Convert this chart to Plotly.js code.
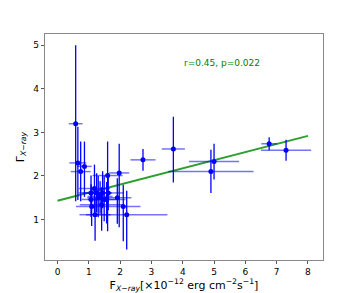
<!DOCTYPE html>
<html><head><meta charset="utf-8">
<script src="https://cdn.plot.ly/plotly-3.0.1.min.js"></script>
<style>html,body{margin:0;padding:0;background:#fff;}#c{width:360px;height:293px;}</style>
</head><body><div id="c"></div>
<script>
const fluxX   = [0.58,0.65,0.74,0.86,1.60,1.97,1.18,1.07,1.25,1.62,1.36,1.57,1.07,1.91,2.10,1.09,1.41,1.20,2.21,2.73,3.70,4.90,5.00,6.76,7.30,1.49,1.30,1.44];
const fluxErr = [0.22,0.27,0.32,0.23,0.48,0.32,0.50,0.40,0.45,0.50,0.40,0.60,0.30,0.45,0.55,0.50,0.70,0.50,1.30,0.40,0.37,1.36,0.80,0.25,0.80,0.35,0.35,0.30];
const gammaY  = [3.20,2.30,2.10,2.22,2.01,2.07,1.71,1.61,1.61,1.61,1.53,1.46,1.46,1.50,1.30,1.30,1.34,1.11,1.11,2.37,2.62,2.10,2.33,2.74,2.59,1.46,1.50,1.61];
const gammaErrPlus  = [1.80,0.83,0.69,0.57,0.78,0.67,0.55,0.40,0.45,0.45,0.35,0.40,0.35,0.45,0.50,0.45,0.40,0.40,0.55,0.25,0.74,0.50,0.41,0.15,0.24,0.55,0.50,0.50];
const gammaErrMinus = [1.78,0.85,0.68,0.70,1.28,1.25,0.55,0.35,0.45,0.40,0.40,0.55,0.40,0.60,0.80,0.45,0.60,0.60,0.80,0.25,0.77,0.49,0.41,0.15,0.24,0.50,0.45,0.35];
const fitX = [0, 8];
const fitY = [1.43, 2.92];
const statText = "r=0.45, p=0.022";

const data = [
  {x: fitX, y: fitY, mode: 'lines', type: 'scatter', line: {color: '#2ca02c', width: 2}, hoverinfo: 'skip'},
  {x: fluxX, y: gammaY, mode: 'markers', type: 'scatter',
   marker: {color: 'blue', size: 5},
   error_x: {type: 'data', array: fluxErr, color: 'rgba(0,0,255,0.55)', thickness: 1.5, width: 0},
   error_y: {type: 'data', symmetric: false, array: gammaErrPlus, arrayminus: gammaErrMinus, color: 'blue', thickness: 1.3, width: 0}}
];
const axisCommon = {showline: true, mirror: true, linecolor: '#888', linewidth: 1.3, ticks: 'outside', ticklen: 3, tickcolor: '#555', tickwidth: 1,
  showgrid: false, zeroline: false, tickfont: {family: 'DejaVu Sans', size: 9, color: '#000'}};
const layout = {
  width: 360, height: 293, showlegend: false,
  margin: {l: 45, r: 37, t: 34, b: 33},
  paper_bgcolor: '#fff', plot_bgcolor: '#fff',
  xaxis: Object.assign({}, axisCommon, {range: [-0.4, 8.48], tickvals: [0,1,2,3,4,5,6,7,8],
    title: {text: 'F<sub><i>X−ray</i></sub>[×10<sup>−12</sup> erg cm<sup>−2</sup>s<sup>−1</sup>]', font: {family: 'DejaVu Sans', size: 11, color: '#000'}, standoff: 4}}),
  yaxis: Object.assign({}, axisCommon, {range: [0.07, 5.26], tickvals: [1,2,3,4,5],
    title: {text: 'Γ<sub><i>X−ray</i></sub>', font: {family: 'DejaVu Sans', size: 11, color: '#000'}, standoff: 6}}),
  annotations: [{x: 5.25, y: 4.59, xref: 'x', yref: 'y', text: statText, showarrow: false,
    font: {family: 'DejaVu Sans', size: 9, color: 'green'}}]
};
Plotly.newPlot('c', data, layout, {displayModeBar: false, staticPlot: true});
</script></body></html>
